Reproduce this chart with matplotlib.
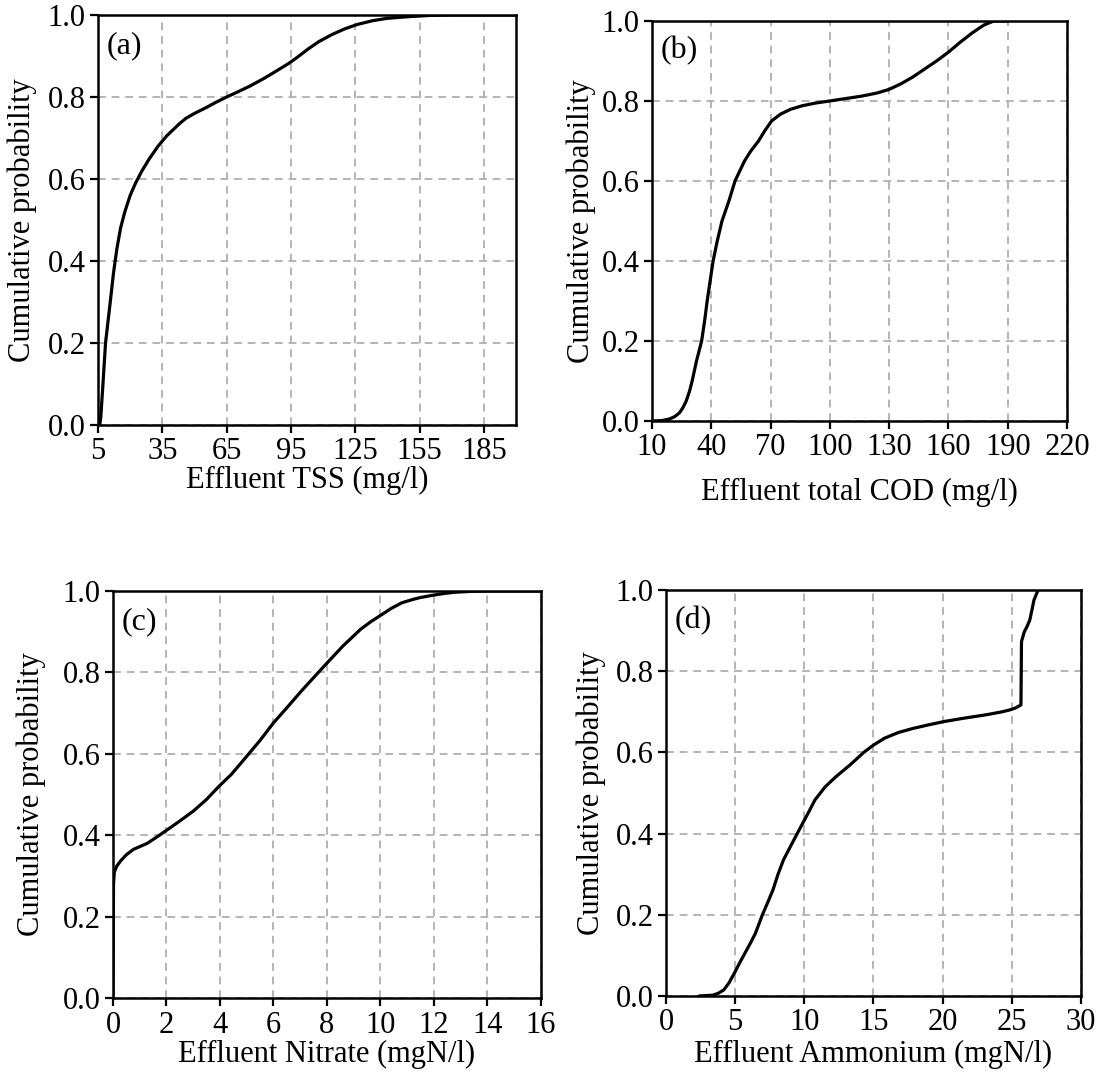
import matplotlib
matplotlib.use('Agg')
import matplotlib.pyplot as plt

plt.rcParams['font.family'] = ['Liberation Serif', 'DejaVu Serif']
plt.rcParams['font.size'] = 22

# (a) effluent TSS
tss_x = [5.8, 6.3, 7.3, 8.5, 10.7, 12.2, 13.8, 15.5, 17.5, 20, 22.5, 25.5, 29, 33, 37, 40, 43, 46,
         50, 55, 60, 65, 70, 76, 83, 89, 94, 98, 103, 108, 114, 120, 126, 133, 140, 150, 160, 170, 200]
tss_p = [0.0, 0.02, 0.1, 0.2, 0.3, 0.37, 0.43, 0.48, 0.52, 0.56, 0.59, 0.62, 0.65, 0.68, 0.705, 0.72, 0.735, 0.748,
         0.76, 0.773, 0.787, 0.8, 0.812, 0.827, 0.847, 0.866, 0.882, 0.897, 0.917, 0.935, 0.952, 0.966, 0.977, 0.986, 0.992, 0.996, 0.999, 1.0, 1.0]

# (b) effluent total COD
cod_x = [10, 15, 18.8, 21.5, 23.8, 25.5, 27.3, 29, 30.3, 32.5, 35.1, 36.6, 37.9, 39.4, 40.9, 43, 45.4,
         48.9, 52, 56.8, 60, 63.9, 67, 70.5, 75, 80, 86, 93, 100, 108, 116, 124, 130, 136, 142,
         148, 154, 160, 166, 172, 178, 183, 190]
cod_p = [0.0, 0.001, 0.005, 0.011, 0.02, 0.032, 0.05, 0.075, 0.1, 0.15, 0.2, 0.25, 0.3, 0.35, 0.4, 0.45, 0.5,
         0.55, 0.6, 0.65, 0.675, 0.7, 0.725, 0.75, 0.767, 0.779, 0.788, 0.795, 0.8, 0.806, 0.812, 0.82, 0.829, 0.843, 0.86,
         0.88, 0.9, 0.922, 0.947, 0.97, 0.99, 1.0, 1.0]

# (c) effluent nitrate
no3_x = [0, 0.02, 0.05, 0.15, 0.3, 0.5, 0.76, 1.28, 1.65, 2, 2.5, 3, 3.5, 3.96, 4.42, 4.95, 5.5, 6.0, 6.5,
         7.04, 7.5, 7.96, 8.6, 9.26, 9.65, 9.98, 10.4, 10.8, 11.2, 11.5, 12.0, 12.4, 12.8, 13.4, 14, 16]
no3_p = [0.0, 0.28, 0.31, 0.325, 0.338, 0.352, 0.365, 0.38, 0.396, 0.412, 0.435, 0.459, 0.488, 0.52, 0.549, 0.59, 0.633, 0.676, 0.713,
         0.754, 0.787, 0.82, 0.865, 0.906, 0.925, 0.939, 0.957, 0.971, 0.979, 0.984, 0.99, 0.994, 0.997, 0.999, 1.0, 1.0]

# (d) effluent ammonium
nh4_x = [2.4, 3.4, 3.8, 4.18, 4.55, 4.94, 5.3, 5.7, 6.1, 6.46, 6.97, 7.35, 7.73, 8.1, 8.49, 9.1, 9.75, 10.3, 10.77,
         11.5, 12.28, 13.3, 14.3, 15, 15.8, 16.8, 17.85, 19, 20.1, 21.5, 23.2, 24.3, 24.9, 25.3, 25.66,
         25.7, 25.9, 26.1, 26.3, 26.45, 26.6, 26.9]
nh4_p = [0.0, 0.002, 0.007, 0.015, 0.032, 0.056, 0.08, 0.105, 0.13, 0.154, 0.2, 0.23, 0.261, 0.3, 0.335, 0.375, 0.417, 0.452, 0.483,
         0.515, 0.54, 0.569, 0.6, 0.618, 0.635, 0.649, 0.659, 0.668, 0.676, 0.684, 0.693, 0.7, 0.705, 0.71, 0.717,
         0.873, 0.897, 0.91, 0.926, 0.95, 0.975, 1.0]

panels = [
    ('(a)', tss_x, tss_p, (5, 200), list(range(5, 186, 30)), 'Effluent TSS (mg/l)'),
    ('(b)', cod_x, cod_p, (10, 220), list(range(10, 221, 30)), 'Effluent total COD (mg/l)'),
    ('(c)', no3_x, no3_p, (0, 16), list(range(0, 17, 2)), 'Effluent Nitrate (mgN/l)'),
    ('(d)', nh4_x, nh4_p, (0, 30), list(range(0, 31, 5)), 'Effluent Ammonium (mgN/l)'),
]

rects = [
    [0.0892, 0.6065, 0.3803, 0.3796],
    [0.5933, 0.6102, 0.3776, 0.3704],
    [0.1028, 0.0759, 0.3894, 0.3769],
    [0.6060, 0.0778, 0.3776, 0.3759],
]
# label positions in axes fraction (ylabel x, xlabel y)
label_pos = [(-0.146, -0.10), (-0.135, -0.1425), (-0.157, -0.103), (-0.145, -0.108)]

fig = plt.figure(figsize=(10.99, 10.8), dpi=100)

for (tag, x, p, xlim, xticks, xlabel), rect, (ylx, xly) in zip(panels, rects, label_pos):
    ax = fig.add_axes(rect)
    ax.plot(x, p, color='black', lw=2.3, solid_joinstyle='round', solid_capstyle='round')
    ax.set_xlim(*xlim)
    ax.set_ylim(0, 1)
    ax.set_xticks(xticks)
    ax.set_yticks([0, 0.2, 0.4, 0.6, 0.8, 1.0])
    ax.set_yticklabels(['0.0', '0.2', '0.4', '0.6', '0.8', '1.0'])
    ax.grid(True, color='#b4b4b4', linestyle=(0, (4, 3)), lw=1.4)
    ax.set_axisbelow(True)
    for s in ax.spines.values():
        s.set_linewidth(1.8)
    ax.tick_params(direction='out', length=6, width=1.6, pad=3)
    ax.set_xlabel(xlabel)
    ax.set_ylabel('Cumulative probability')
    ax.xaxis.set_label_coords(0.5, xly)
    ax.yaxis.set_label_coords(ylx, 0.5)
    ax.text(0.02, 0.925, tag, transform=ax.transAxes, ha='left', va='center', fontsize=23)

fig.savefig('out.png', dpi=100)
